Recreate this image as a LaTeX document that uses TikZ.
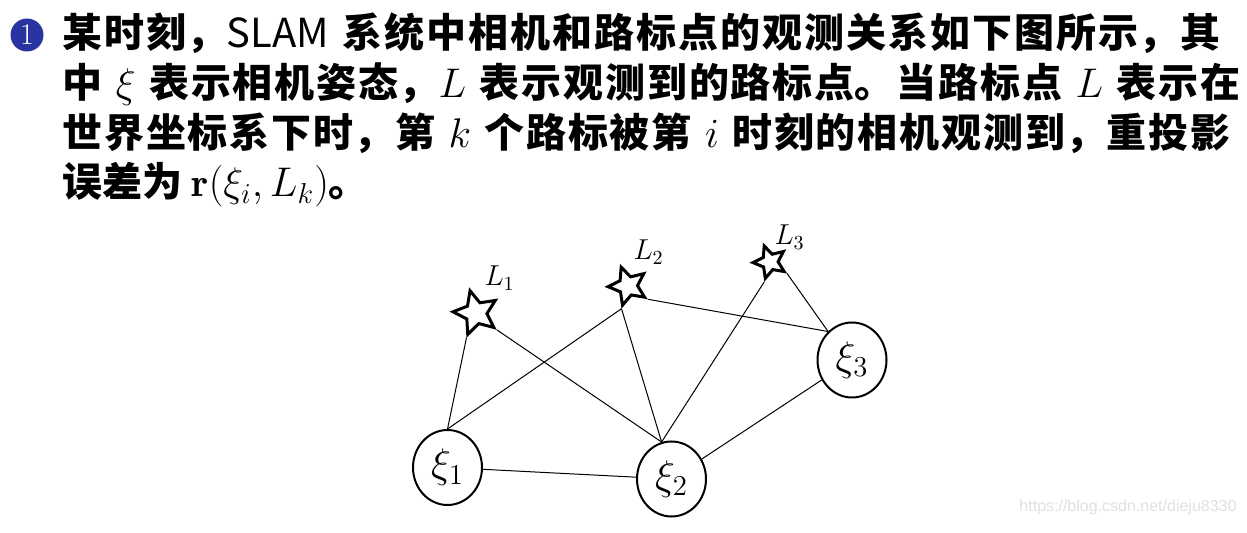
\documentclass[tikz,border=0pt]{standalone}
\usepackage{fontspec}
\newfontfamily\cjk{Noto Sans CJK SC}
\newfontfamily\wmfont{Liberation Sans}
\usetikzlibrary{shapes.geometric}
\XeTeXlinebreaklocale "zh"
\XeTeXlinebreakskip = 0pt plus 1pt
\definecolor{ballblue}{RGB}{42,52,160}
\newcommand{\fillline}[2]{\parbox[b]{#1}{\parfillskip=0pt\relax\parindent=0pt\relax #2}}
\tikzset{every picture/.style={line width=0.5pt}}
\tikzset{
  pose/.style={draw,ellipse,line width=1pt,minimum width=34.5pt,minimum height=37.5pt,inner sep=0pt,font=\fontsize{21}{25}\selectfont},
  landmark/.style={draw,star,star points=5,star point ratio=2.1,shape border rotate=15,line width=1.5pt,inner sep=0pt},
  txtline/.style={anchor=base west,inner sep=0pt,font=\cjk\bfseries\fontsize{20}{25}\selectfont},
  lmlabel/.style={anchor=base west,inner sep=0pt,font=\fontsize{14}{16}\selectfont},
}

\begin{document}
\begin{tikzpicture}[x=0.5pt,y=0.5pt,yscale=-1,xscale=1]
\useasboundingbox (0,0) rectangle (1247,533);

% Ball
\draw (27,35) node [circle,fill=ballblue,minimum size=16.5pt,inner sep=0pt,text=white,font=\fontsize{15}{15}\selectfont] (ball) {1};

% Text Node
\draw (62,48) node [txtline] (line1) {\fillline{579pt}{某时刻，{\mdseries SLAM} 系统中相机和路标点的观测关系如下图所示，其}};
% Text Node
\draw (62,98) node [txtline] (line2) {\fillline{589pt}{中 $\xi$ 表示相机姿态，$L$ 表示观测到的路标点。当路标点 $L$ 表示在}};
% Text Node
\draw (62,148) node [txtline] (line3) {\fillline{584pt}{世界坐标系下时，第 $k$ 个路标被第 $i$ 时刻的相机观测到，重投影}};
% Text Node
\draw (62,197) node [txtline] (line4) {误差为 $\mathbf{r}(\xi_i, L_k)$。};

% Poses
\draw (447.5,467.5) node [pose] (x1) {$\xi_1$};
\draw (671.5,479) node [pose] (x2) {$\xi_2$};
\draw (852,360) node [pose] (x3) {$\xi_3$};

% Landmarks
\draw (476,313) node [landmark,minimum size=23pt] (l1) {};
\draw (628,286) node [landmark,minimum size=20pt,shape border rotate=20] (l2) {};
\draw (770,262) node [landmark,minimum size=17pt,shape border rotate=20] (l3) {};

% Text Node
\draw (484,286) node [lmlabel] (t1) {$L_1$};
% Text Node
\draw (633,260) node [lmlabel] (t2) {$L_2$};
% Text Node
\draw (774,245) node [lmlabel] (t3) {$L_3$};

%Straight Lines
\draw (x1.north) -- (l1.outer point 3);
\draw (x1.north) -- (l2.outer point 3);
\draw (l1.outer point 4) -- (x2.105);
\draw (l2.outer point 3) -- (x2.105);
\draw (l3.outer point 3) -- (x2.105);
\draw (l2.outer point 4) -- (x3.130);
\draw (l3.outer point 4) -- (x3.130);
\draw (x1) -- (x2);
\draw (x2) -- (x3);

% Text Node
\draw (1237,512) node [anchor=base east,inner sep=0pt,text=black!12,font=\wmfont\fontsize{8}{10}\selectfont] (wm) {https://blog.csdn.net/dieju8330};

\end{tikzpicture}
\end{document}
